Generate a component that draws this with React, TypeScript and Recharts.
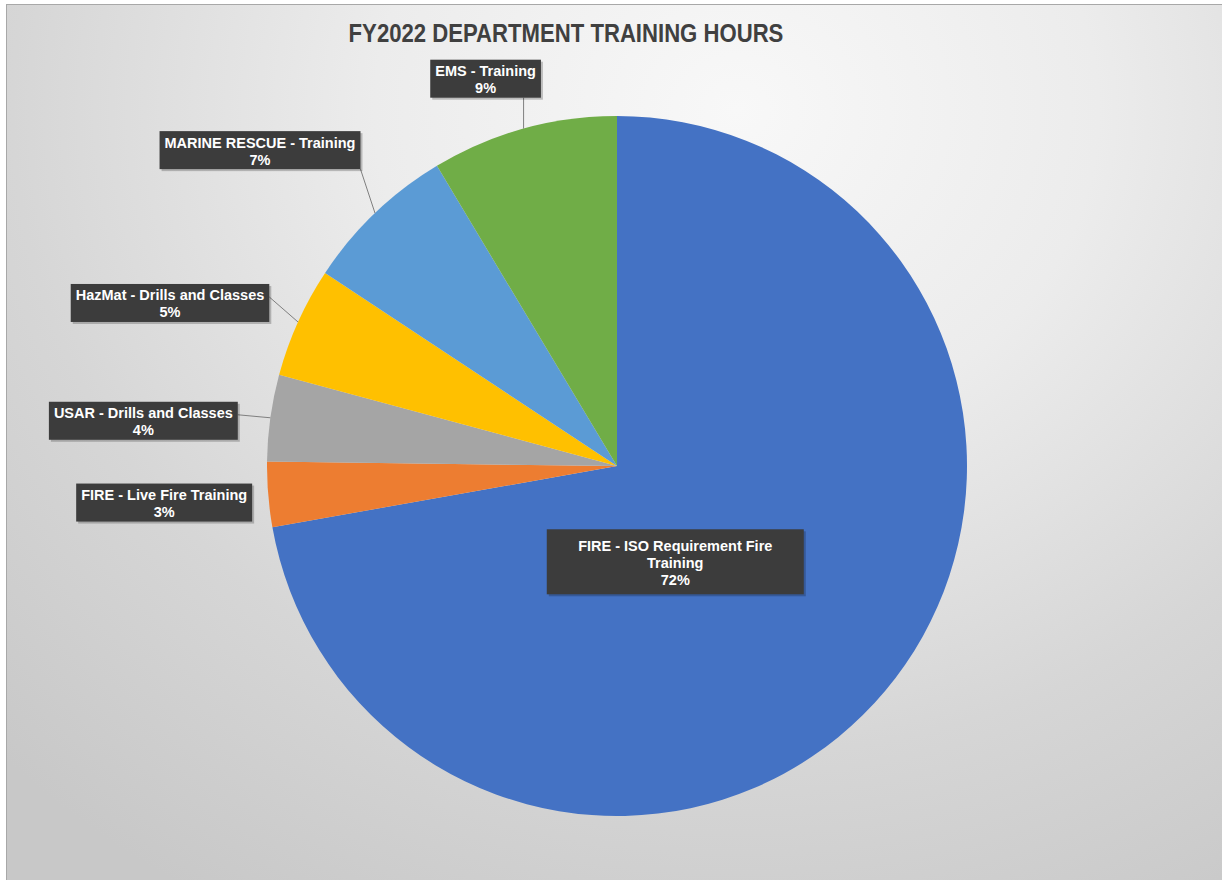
import { PieChart, Pie, Cell } from "recharts";

// slices listed clockwise from 12 o'clock
const CATEGORIES = [
  "FIRE - ISO Requirement Fire Training",
  "FIRE - Live Fire Training",
  "USAR - Drills and Classes",
  "HazMat - Drills and Classes",
  "MARINE RESCUE - Training",
  "EMS - Training",
];
const SHARES = [72.2, 3.0, 4.0, 5.1, 7.1, 8.6];
const COLORS = ["#4472C4", "#ED7D31", "#A5A5A5", "#FFC000", "#5B9BD5", "#70AD47"];

// label box placement, relative to the point where each slice meets the rim
const LABEL_LAYOUT = [
  { dx: -210, dy: -129, minWidth: 257, wrap: 215, padY: 7, line: false },
  { dx: -104, dy: 8, line: false },
  { dx: -127, dy: 3, line: true },
  { dx: -128, dy: -19, line: true },
  { dx: -115, dy: -63, line: true },
  { dx: -38, dy: -50, line: true },
];

const FONT = "bold 14.5px 'Liberation Sans', Arial, sans-serif";
const LINE_H = 17;
const RADIAN = Math.PI / 180;

let ctx: CanvasRenderingContext2D | null = null;
const measure = (s: string) => {
  if (!ctx) ctx = document.createElement("canvas").getContext("2d");
  if (!ctx) return s.length * 8;
  ctx.font = FONT;
  return ctx.measureText(s).width;
};

const wrapText = (s: string, max?: number) => {
  if (!max) return [s];
  const words = s.split(" ");
  const lines: string[] = [];
  let cur = "";
  words.forEach((w) => {
    const next = cur ? cur + " " + w : w;
    if (cur && measure(next) > max) {
      lines.push(cur);
      cur = w;
    } else cur = next;
  });
  if (cur) lines.push(cur);
  return lines;
};

const data = CATEGORIES.map((name, i) => ({ name, value: SHARES[i] }));

const renderLabel = (props: any) => {
  const { cx, cy, midAngle, outerRadius, percent, index, name } = props;
  const lay: any = LABEL_LAYOUT[index];
  const ex = cx + outerRadius * Math.cos(-midAngle * RADIAN);
  const ey = cy + outerRadius * Math.sin(-midAngle * RADIAN);
  const lines = [...wrapText(name, lay.wrap), `${Math.round(percent * 100)}%`];
  const textW = Math.max(...lines.map(measure));
  const w = Math.max(textW + 10, lay.minWidth || 0);
  const padY = lay.padY ?? 2;
  const h = lines.length * LINE_H + padY * 2;
  const bx = ex + lay.dx;
  const by = ey + lay.dy;
  const left = bx - w / 2;
  const top = by - h / 2;
  // leader attaches to the side of the box facing the slice
  let lx = Math.min(Math.max(ex, left), left + w);
  let ly = Math.min(Math.max(ey, top), top + h);
  if (ex > left + w && ey <= top + h + 2) {
    lx = left + w;
    ly = by - 6;
  }
  return (
    <g key={`lbl-${index}`}>
      {lay.line && <line x1={ex} y1={ey} x2={lx} y2={ly} stroke="#7f7f7f" strokeWidth={1} />}
      <rect x={left + 2} y={top + 2} width={w} height={h} fill="rgba(0,0,0,0.22)" />
      <rect x={left} y={top} width={w} height={h} fill="#3c3c3c" />
      {lines.map((t, i) => (
        <text
          key={i}
          x={bx}
          y={top + padY + (i + 0.5) * LINE_H + 1}
          textAnchor="middle"
          dominantBaseline="central"
          fill="#ffffff"
          style={{ font: FONT }}
        >
          {t}
        </text>
      ))}
    </g>
  );
};

export default function App() {
  return (
    <div style={{ position: "absolute", left: 0, top: 0, width: 1222, height: 880, background: "#ffffff", overflow: "hidden" }}>
      <div
        style={{
          position: "absolute",
          left: 6,
          top: 4,
          width: 1216,
          height: 876,
          borderTop: "1px solid #a8a8a8",
          borderLeft: "1px solid #a8a8a8",
          background:
            "radial-gradient(ellipse 85% 105% at 60% 12%, #f8f8f8 0%, #ececec 35%, #d6d6d6 70%, #c8c8c8 100%)",
        }}
      />
      <div
        style={{
          position: "absolute",
          left: 266,
          width: 600,
          top: 21,
          textAlign: "center",
          font: "bold 25px 'Liberation Sans', Arial, sans-serif",
          lineHeight: "25px",
          color: "#404040",
          transform: "scaleX(0.885)",
        }}
      >
        FY2022 DEPARTMENT TRAINING HOURS
      </div>
      <div style={{ position: "absolute", left: 0, top: 0 }}>
        <PieChart width={1222} height={880} margin={{ top: 0, right: 0, bottom: 0, left: 0 }}>
          <Pie
            data={data}
            dataKey="value"
            nameKey="name"
            cx={617}
            cy={466}
            outerRadius={350}
            startAngle={90}
            endAngle={-270}
            stroke="none"
            label={renderLabel}
            labelLine={false}
            isAnimationActive={false}
          >
            {data.map((d, i) => (
              <Cell key={d.name} fill={COLORS[i]} />
            ))}
          </Pie>
        </PieChart>
      </div>
    </div>
  );
}
